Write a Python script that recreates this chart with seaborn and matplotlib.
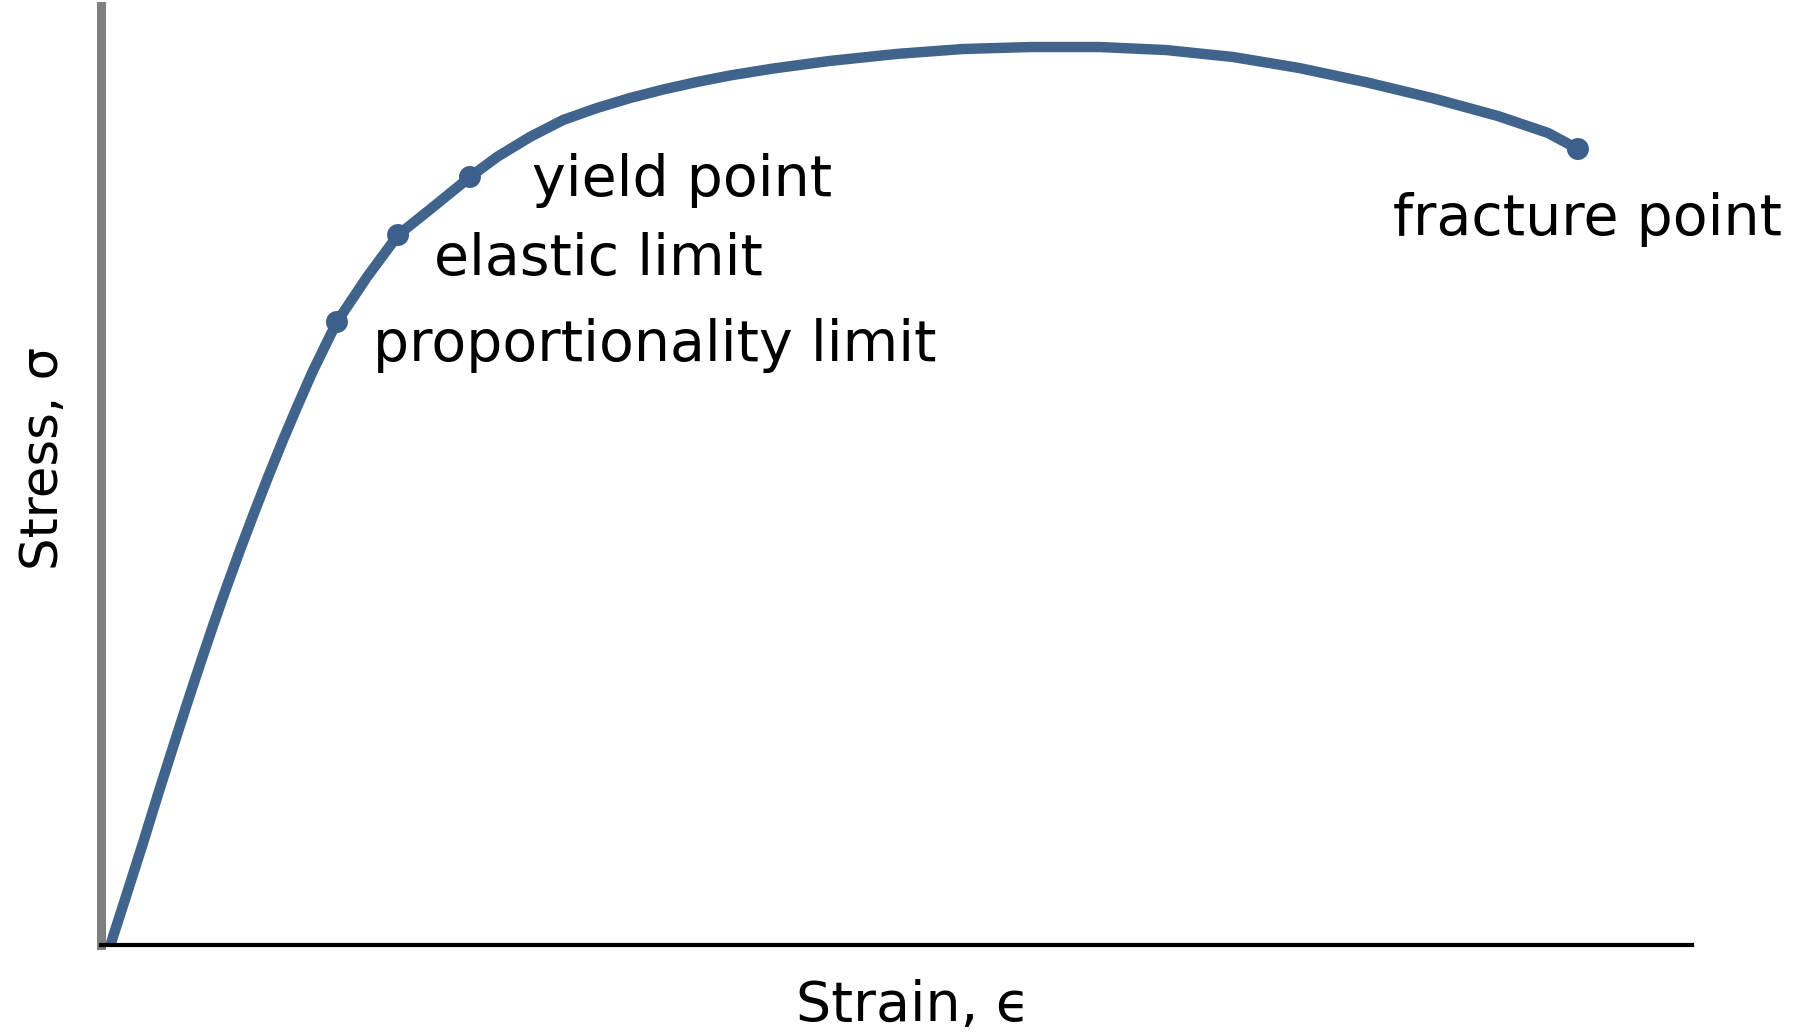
import numpy as np
import pandas as pd
import seaborn as sns
import matplotlib
matplotlib.use('Agg')
import matplotlib.pyplot as plt

# Stress-strain curve (arbitrary units, 0-100 on both axes)
strain = [0.6, 0.75, 1.70, 2.64, 3.61, 4.53, 5.34, 6.25, 7.10, 7.76, 8.74, 9.62, 10.50,
          11.44, 12.32, 13.26, 14.05, 14.83, 16.72, 18.67, 20.87, 23.19, 24.89, 26.96,
          29.04, 31.18, 33.25, 35.32, 37.46, 39.53, 42.24, 45.76, 49.97, 54.18, 58.39,
          62.79, 66.94, 71.15, 75.30, 79.45, 83.66, 87.81, 90.95, 92.83]
stress = [0.0, 0.85, 5.86, 10.86, 16.19, 21.09, 25.35, 30.03, 34.29, 37.49, 42.07, 46.01, 49.84,
          53.78, 57.29, 60.92, 63.68, 66.35, 71.14, 75.61, 78.59, 81.79, 83.92, 86.05,
          87.86, 89.14, 90.20, 91.10, 91.91, 92.60, 93.34, 94.14, 94.89, 95.42, 95.63,
          95.63, 95.31, 94.57, 93.40, 91.91, 90.20, 88.28, 86.48, 84.77]

# Marked points on the curve
point_names = ['proportionality limit', 'elastic limit', 'yield point', 'fracture point']
point_strain = [14.83, 18.67, 23.19, 92.83]
point_stress = [66.35, 75.61, 81.79, 84.77]
# where each label starts
label_x = [17.1, 20.9, 27.1, 81.2]
label_y = [63.8, 73.0, 81.4, 77.3]

sns.set_style('white')
plt.rcParams['font.family'] = ['DejaVu Sans']

curve = pd.DataFrame({'strain': strain, 'stress': stress})
points = pd.DataFrame({'strain': point_strain, 'stress': point_stress})

fig = plt.figure(figsize=(18.01, 10.33), dpi=100)
ax = fig.add_axes([101 / 1801, 88 / 1033, 1591 / 1801, 939 / 1033])

line_color = '#41648c'
sns.lineplot(data=curve, x='strain', y='stress', sort=False, color=line_color,
             linewidth=7.5, ax=ax)
ax.lines[0].set_solid_joinstyle('round')
sns.scatterplot(data=points, x='strain', y='stress', color='#3d5f8c', s=250,
                edgecolor='none', ax=ax, zorder=3)

for name, x, y in zip(point_names, label_x, label_y):
    ax.text(x, y, name, fontsize=41, va='center', ha='left', color='black')

ax.set_xlim(0, 100)
ax.set_ylim(0, 100)
ax.set_xticks([])
ax.set_yticks([])

ax.spines['top'].set_visible(False)
ax.spines['right'].set_visible(False)
ax.spines['bottom'].set_color('black')
ax.spines['bottom'].set_linewidth(3)
ax.spines['left'].set_color('#7f7f7f')
ax.spines['left'].set_linewidth(6.5)

ax.set_xlabel('Strain, ϵ', fontsize=40, color='black')
ax.set_ylabel('Stress, σ', fontsize=37, color='black')
ax.xaxis.set_label_coords((913 - 101) / 1591, -0.036)
ax.yaxis.set_label_coords(-0.036, 0.518)
ax.yaxis.label.set_va('center')
ax.yaxis.label.set_ha('center')

fig.savefig('out.png', dpi=100)
